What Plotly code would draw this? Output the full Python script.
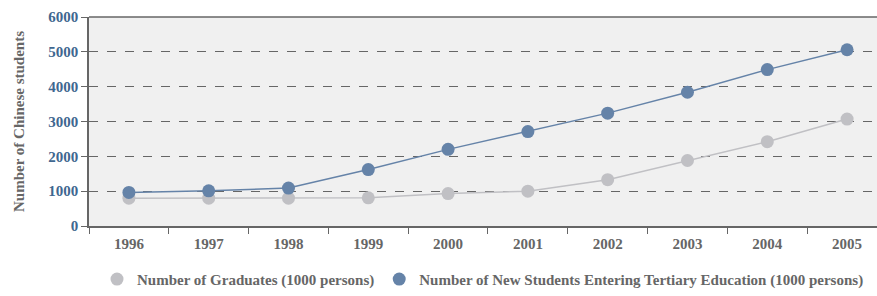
import plotly.graph_objects as go

years = ["1996", "1997", "1998", "1999", "2000", "2001", "2002", "2003", "2004", "2005"]
graduates = [800, 800, 800, 810, 930, 1000, 1330, 1880, 2420, 3070]
new_students = [965, 1010, 1090, 1620, 2200, 2710, 3240, 3840, 4490, 5060]

names = ["<b>Number of Graduates (1000 persons)</b>",
         "<b>Number of New Students Entering Tertiary Education (1000 persons)</b>"]
colors = ["#c0c0c4", "#6583a8"]

FONT = "Liberation Serif"
fig = go.Figure()
for vals, name, col in zip([graduates, new_students], names, colors):
    fig.add_trace(go.Scatter(
        x=years, y=vals, mode="lines+markers", name=name, showlegend=False,
        line=dict(color=col, width=1.5), marker=dict(color=col, size=13),
    ))
for name, col in zip(names, colors):
    fig.add_trace(go.Scatter(
        x=[None], y=[None], mode="markers", name=name, showlegend=True,
        marker=dict(color=col, size=13),
    ))

fig.update_layout(
    width=877, height=296,
    margin=dict(l=89, r=0, t=17, b=63),
    paper_bgcolor="white", plot_bgcolor="#f0f0f0",
    font=dict(family=FONT, size=15, color="#666666"),
    showlegend=True,
    legend=dict(orientation="h", x=0.5, xanchor="center", y=-0.255, yanchor="middle",
                font=dict(family=FONT, size=15, color="#666666"),
                tracegroupgap=0, itemwidth=30),
    xaxis=dict(type="category", range=[-0.5, 9.375], tickson="boundaries", automargin=False,
               ticks="outside", ticklen=6, tickcolor="#666666", showgrid=False,
               showline=True, linecolor="#666666", linewidth=1.5, ticklabelstandoff=3,
               tickfont=dict(family=FONT, size=15, color="#666666"),
               tickprefix="<b>", ticksuffix="</b>"),
    yaxis=dict(range=[0, 6000], dtick=1000, ticks="outside", ticklen=6, automargin=False,
               tickcolor="#666666", showline=True, linecolor="#666666", linewidth=1.5,
               showgrid=True, gridcolor="#666666", griddash="dash", gridwidth=1,
               zeroline=False,
               tickfont=dict(family=FONT, size=15, color="#3f6790"),
               tickprefix="<b>", ticksuffix="</b>",
               title=dict(text="<b>Number of Chinese students</b>",
                          font=dict(family=FONT, size=15, color="#666666"), standoff=20)),
    shapes=[dict(type="line", xref="paper", yref="paper", x0=0, x1=1, y0=1, y1=1,
                 line=dict(color="#666666", width=1.5))],
)

fig.write_html("out.html", config={"displayModeBar": False},
               post_script="document.body.style.margin='0';")
